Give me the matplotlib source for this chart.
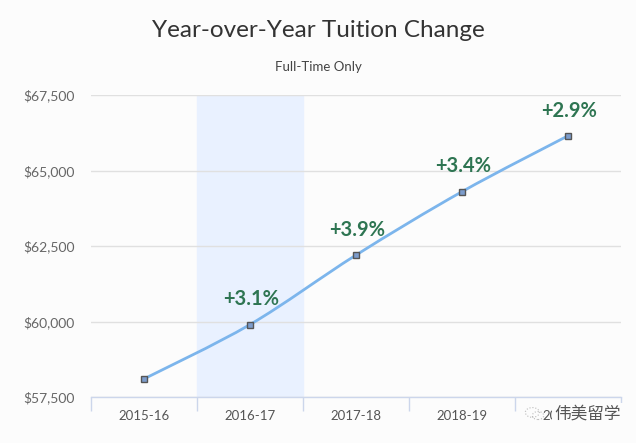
import numpy as np
import matplotlib as mpl
import matplotlib.pyplot as plt
from matplotlib.path import Path
from matplotlib.patches import PathPatch, Circle
from matplotlib.ticker import FuncFormatter, FixedLocator

mpl.rcParams['font.family'] = ['Lato', 'Noto Sans CJK SC', 'DejaVu Sans']

years = ['2015-16', '2016-17', '2017-18', '2018-19', '2019-20']
tuition = [58100, 59900, 62200, 64300, 66150]
changes = ['', '+3.1%', '+3.9%', '+3.4%', '+2.9%']
highlight = 1

bg = '#fcfcfc'
fig = plt.figure(figsize=(6.36, 4.43), dpi=100, facecolor=bg)
ax = fig.add_axes([0.1431, 0.1038, 0.8333, 0.6817], facecolor=bg)

x = np.arange(len(years))
ax.set_xlim(-0.5, len(years) - 0.5)
ax.set_ylim(57500, 67500)

# shaded band
ax.axvspan(highlight - 0.5, highlight + 0.5, color='#e9f1ff', zorder=0)

# smooth line through points (catmull-rom -> bezier)
pts = np.column_stack([x, tuition]).astype(float)
verts = [pts[0]]
codes = [Path.MOVETO]
for i in range(len(pts) - 1):
    p0 = pts[max(i - 1, 0)]
    p1 = pts[i]
    p2 = pts[i + 1]
    p3 = pts[min(i + 2, len(pts) - 1)]
    c1 = p1 + (p2 - p0) / 6.0
    c2 = p2 - (p3 - p1) / 6.0
    verts += [c1, c2, p2]
    codes += [Path.CURVE4] * 3
ax.add_patch(PathPatch(Path(verts, codes), fill=False, edgecolor='#7cb5ec', lw=2, zorder=2))
ax.plot(x, tuition, ls='none', marker='s', ms=4.5, mfc='#7c9ccc', mec='#555555', mew=1, zorder=3)

for xi, yi, t in zip(x, tuition, changes):
    if t:
        ax.annotate(t, (xi, yi), xytext=(1, 11), textcoords='offset points', ha='center',
                    va='bottom', fontsize=14.5, fontweight='bold', color='#2e7552')

# grid & axes
ax.yaxis.set_major_locator(FixedLocator([57500, 60000, 62500, 65000, 67500]))
ax.yaxis.set_major_formatter(FuncFormatter(lambda v, p: '${:,.0f}'.format(v)))
ax.grid(axis='y', color='#e0e0e0', lw=1)
ax.set_axisbelow(True)
for s in ['top', 'right', 'left']:
    ax.spines[s].set_visible(False)
ax.spines['bottom'].set_color('#ccd6eb')
ax.spines['bottom'].set_linewidth(1)
ax.tick_params(axis='y', length=0, labelsize=10, labelcolor='#666666', pad=12)

ax.set_xticks(x)
ax.set_xticklabels(years)
ax.tick_params(axis='x', which='major', length=0, labelsize=9.5, labelcolor='#555555', pad=9)
ax.set_xticks(np.arange(-0.5, len(years)), minor=True)
ax.tick_params(axis='x', which='minor', length=10, color='#ccd6eb', width=1)

fig.text(0.5, 0.932, 'Year-over-Year Tuition Change', ha='center', va='center',
         fontsize=17.5, color='#333333')
fig.text(0.5, 0.849, 'Full-Time Only', ha='center', va='center',
         fontsize=9.5, color='#444444')

# watermark
fig.text(0.872, 0.066, '伟美留学', ha='left', va='center', fontsize=12, color='#555555',
         bbox=dict(boxstyle='square,pad=0.15', fc=bg, ec='none'))
fig.add_artist(Circle((0.837, 0.069), 0.011, transform=fig.transFigure, fill=False,
                      ec='#bbbbbb', lw=0.8, ls=':'))
fig.add_artist(Circle((0.846, 0.062), 0.009, transform=fig.transFigure, fill=False,
                      ec='#bbbbbb', lw=0.8, ls=':'))

fig.savefig('out.png', dpi=100, facecolor=bg)
